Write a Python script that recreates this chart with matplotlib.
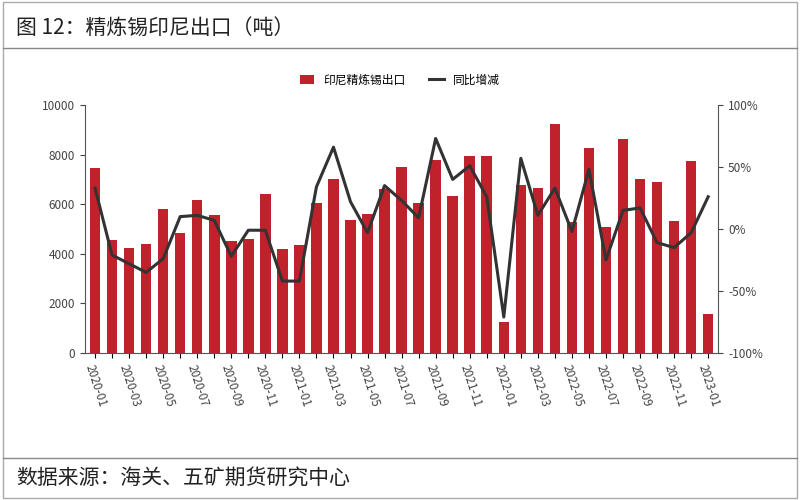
import matplotlib
matplotlib.use("Agg")
import matplotlib.pyplot as plt
from matplotlib.lines import Line2D

plt.rcParams['font.family'] = ['Noto Sans CJK SC', 'DejaVu Sans']

months = [f"{y}-{m:02d}" for y in (2020, 2021, 2022) for m in range(1, 13)] + ["2023-01"]
exports = [7450, 4550, 4250, 4400, 5800, 4850, 6150, 5550, 4500, 4600, 6400, 4200,
           4350, 6050, 7000, 5350, 5600, 6600, 7500, 6050, 7780, 6330, 7940, 7940,
           1250, 6770, 6650, 9230, 5280, 8270, 5080, 8630, 7020, 6900, 5320, 7740,
           1570]
yoy = [33, -21, -28, -35, -24, 10, 11, 7, -22, -1, -1, -42,
       -42, 34, 66, 22, -3, 35, 23, 9, 73, 40, 51, 26,
       -71, 57, 11, 33, -2, 48, -25, 15, 17, -11, -15, -3,
       26]

fig = plt.figure(figsize=(8, 5), dpi=100)
fig.add_artist(plt.Rectangle((0.004, 0.004), 0.992, 0.992, transform=fig.transFigure,
                             fill=False, edgecolor='#aaaaaa', lw=1))
fig.add_artist(Line2D([0.004, 0.996], [0.905, 0.905], transform=fig.transFigure, color='#888888', lw=1))
fig.add_artist(Line2D([0.004, 0.996], [0.085, 0.085], transform=fig.transFigure, color='#888888', lw=1))
fig.text(0.02, 0.945, "图 12：精炼锡印尼出口（吨）", fontsize=15, va='center', color='#222222')
fig.text(0.02, 0.045, "数据来源：海关、五矿期货研究中心", fontsize=15, va='center', color='#222222')

ax = fig.add_axes([0.106, 0.294, 0.792, 0.496])
x = range(len(months))
bars = ax.bar(x, exports, width=0.62, color='#c0222b')
ax.set_ylim(0, 10000)
ax.set_xlim(-0.6, len(months) - 0.4)
ax.set_yticks(range(0, 10001, 2000))
ax.set_xticks(list(x))
ax.set_xticklabels([m if i % 2 == 0 else "" for i, m in enumerate(months)], rotation=-72,
                   ha='left', rotation_mode='anchor', fontsize=8.5, color='#444444')
ax.tick_params(axis='y', labelsize=8.5, colors='#444444')
for s in ['top', 'right']:
    ax.spines[s].set_visible(False)
ax.spines['left'].set_color('#555555')
ax.spines['bottom'].set_color('#555555')

ax2 = ax.twinx()
ln, = ax2.plot(list(x), yoy, color='#333333', lw=2.2)
ax2.set_ylim(-100, 100)
ax2.set_yticks([-100, -50, 0, 50, 100])
ax2.set_yticklabels([f"{v}%" for v in [-100, -50, 0, 50, 100]])
ax2.tick_params(axis='y', labelsize=8.5, colors='#444444')
for s in ['top', 'left', 'bottom']:
    ax2.spines[s].set_visible(False)
ax2.spines['right'].set_color('#555555')

fig.legend([bars, ln], ['印尼精炼锡出口', '同比增减'], loc='center', bbox_to_anchor=(0.5, 0.84),
           ncol=2, frameon=False, fontsize=8.5, handlelength=1.2)

fig.savefig("out.png", dpi=100)
